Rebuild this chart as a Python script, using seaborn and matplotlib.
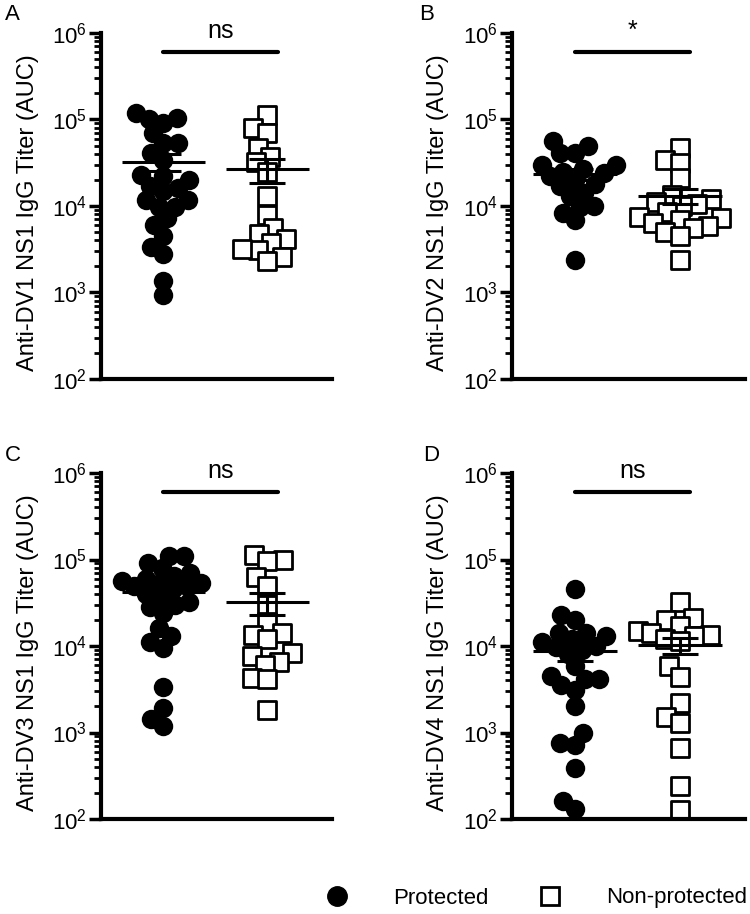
import numpy as np
import pandas as pd
import matplotlib
matplotlib.use("Agg")
import matplotlib.pyplot as plt
from matplotlib.lines import Line2D
from matplotlib.ticker import LogLocator, NullFormatter
import seaborn as sns

# ---- data (titers, AUC) ----
groups = ["Protected", "Non-protected"]

dv1_protected = [118000, 100000, 105000, 91000, 69000, 54000, 54000, 41000, 34000,
                 23000, 22000, 20000, 16000, 15000, 17000, 9800, 11700, 11700, 9800,
                 7200, 6000, 4500, 3400, 2800, 1350, 930]
dv1_nonprotected = [113000, 79000, 69000, 47000, 37000, 32000, 25000, 13000, 7900,
                    5500, 4700, 4100, 3700, 3100, 3200, 2600, 2300]

dv2_protected = [56000, 49000, 41000, 41000, 30000, 30000, 27000, 25000, 24000, 22000,
                 20000, 18000, 17000, 14000, 13000, 10000, 9800, 8400, 6900, 2400]
dv2_nonprotected = [47000, 34000, 31000, 21000, 13500, 12000, 11000, 10500, 10000,
                    8500, 7500, 7200, 6800, 6300, 5900, 5500, 5000, 4500, 2400]

dv3_protected = [110000, 110000, 91000, 80000, 70000, 65000, 60000, 56000, 54000,
                 54000, 49000, 49000, 45000, 40000, 35000, 32000, 30000, 28000, 24000,
                 16000, 13000, 11000, 9500, 3400, 1900, 1450, 1200]
dv3_nonprotected = [113000, 100000, 96000, 63000, 49000, 30000, 19000, 13500, 14000,
                    12000, 7600, 8300, 6600, 6000, 4300, 4100, 1800]

dv4_protected = [45000, 23000, 20000, 14000, 14000, 13000, 11000, 10000, 9800, 9000,
                 8000, 12000, 5800, 4500, 4100, 4100, 3500, 3100, 2000, 980, 750, 720,
                 390, 160, 130]
dv4_nonprotected = [32000, 21000, 20000, 17000, 15000, 14000, 13500, 13000, 12000,
                    11500, 5800, 4400, 2200, 1500, 1300, 660, 240, 126]

panel_letters = ["A", "B", "C", "D"]
serotypes = ["DV1", "DV2", "DV3", "DV4"]
sig_labels = ["ns", "*", "ns", "ns"]
panel_data = [(dv1_protected, dv1_nonprotected),
              (dv2_protected, dv2_nonprotected),
              (dv3_protected, dv3_nonprotected),
              (dv4_protected, dv4_nonprotected)]

# ---- style ----
sns.set_style("ticks")
plt.rcParams["font.family"] = ["Liberation Sans", "DejaVu Sans"]
plt.rcParams["mathtext.fontset"] = "custom"
plt.rcParams["mathtext.rm"] = "Liberation Sans"
for key in ["axes.edgecolor", "xtick.color", "ytick.color", "text.color",
            "axes.labelcolor"]:
    plt.rcParams[key] = "black"

fig = plt.figure(figsize=(7.5, 9.14), dpi=100)
W, H = 750, 914

# axes boxes in pixels: left, top, width, height
boxes = [(101, 33, 231, 346), (512, 33, 233, 346),
         (101, 473, 231, 346), (512, 473, 233, 346)]
letter_pos = [(12, 14), (427, 14), (13, 455), (431, 455)]

# marker sizes: (size used for the swarm layout, size drawn) -> points overlap a bit
circle_size = (10, 14)
square_size = (8.5, 12.5)
swarms = []

for i, (box, (prot, nonprot)) in enumerate(zip(boxes, panel_data)):
    l, t, w, h = box
    ax = fig.add_axes([l / W, 1 - (t + h) / H, w / W, h / H])
    ax.set_yscale("log")

    df_p = pd.DataFrame({"group": groups[0], "titer": prot})
    df_n = pd.DataFrame({"group": groups[1], "titer": nonprot})

    n0 = len(ax.collections)
    sns.swarmplot(data=df_p, x="group", y="titer", order=groups, ax=ax,
                  color="black", size=circle_size[0], marker="o", linewidth=0,
                  zorder=2, warn_thresh=1)
    swarms += [(c, circle_size[1]) for c in ax.collections[n0:]]
    n0 = len(ax.collections)
    sns.swarmplot(data=df_n, x="group", y="titer", order=groups, ax=ax,
                  color="white", edgecolor="black", linewidth=2.0,
                  size=square_size[0], marker="s", zorder=2, warn_thresh=1)
    swarms += [(c, square_size[1]) for c in ax.collections[n0:]]

    # mean +/- SEM
    for pos, vals in enumerate([prot, nonprot]):
        v = np.asarray(vals, dtype=float)
        m = v.mean()
        sem = v.std(ddof=1) / np.sqrt(len(v))
        ax.hlines(m, pos - 0.4, pos + 0.4, color="black", lw=2.2, zorder=4)
        ax.errorbar(pos, m, yerr=sem, color="black", lw=2.2, capsize=13,
                    capthick=2.2, zorder=4)

    # significance bar
    ax.plot([0, 1.1], [6.1e5, 6.1e5], color="black", lw=3, clip_on=False)
    ax.text(0.55, 7.6e5, sig_labels[i], ha="center", va="bottom",
            fontsize=18, clip_on=False)

    ax.set_xlim(-0.6, 1.62)
    ax.set_ylim(1e2, 1e6)
    ax.set_xticks([])
    ax.set_xlabel("")
    ax.yaxis.set_major_locator(LogLocator(base=10, numticks=10))
    ax.yaxis.set_minor_locator(LogLocator(base=10, subs=np.arange(2, 10), numticks=20))
    ax.yaxis.set_minor_formatter(NullFormatter())
    ax.tick_params(axis="y", which="major", length=9, width=2.5, pad=1,
                   labelsize=16, direction="out")
    ax.tick_params(axis="y", which="minor", length=5, width=2, direction="out")
    sns.despine(ax=ax)
    ax.spines["left"].set_linewidth(3)
    ax.spines["bottom"].set_linewidth(3)

    ax.set_ylabel(f"Anti-{serotypes[i]} NS1 IgG Titer (AUC)", fontsize=17)
    ax.yaxis.set_label_coords(-0.27, 0.48)

    fig.text(letter_pos[i][0] / W, 1 - letter_pos[i][1] / H, panel_letters[i],
             fontsize=16, ha="center", va="center")

# legend
handles = [Line2D([], [], ls="none", marker="o", color="black", markersize=14),
           Line2D([], [], ls="none", marker="s", markerfacecolor="white",
                  markeredgecolor="black", markeredgewidth=2.0, markersize=12.5)]
fig.legend(handles, groups, loc="center left", bbox_to_anchor=(326 / W, 1 - 898 / H),
           ncol=2, frameon=False, fontsize=16, handlelength=1.0,
           handletextpad=2.0, columnspacing=2.3, borderpad=0, borderaxespad=0)

# let seaborn lay out the swarms, then freeze them and enlarge the markers
fig.canvas.draw()
for coll, big in swarms:
    if "draw" in coll.__dict__:
        del coll.draw
    coll.set_sizes([big ** 2])

fig.savefig("out.png", dpi=100)
